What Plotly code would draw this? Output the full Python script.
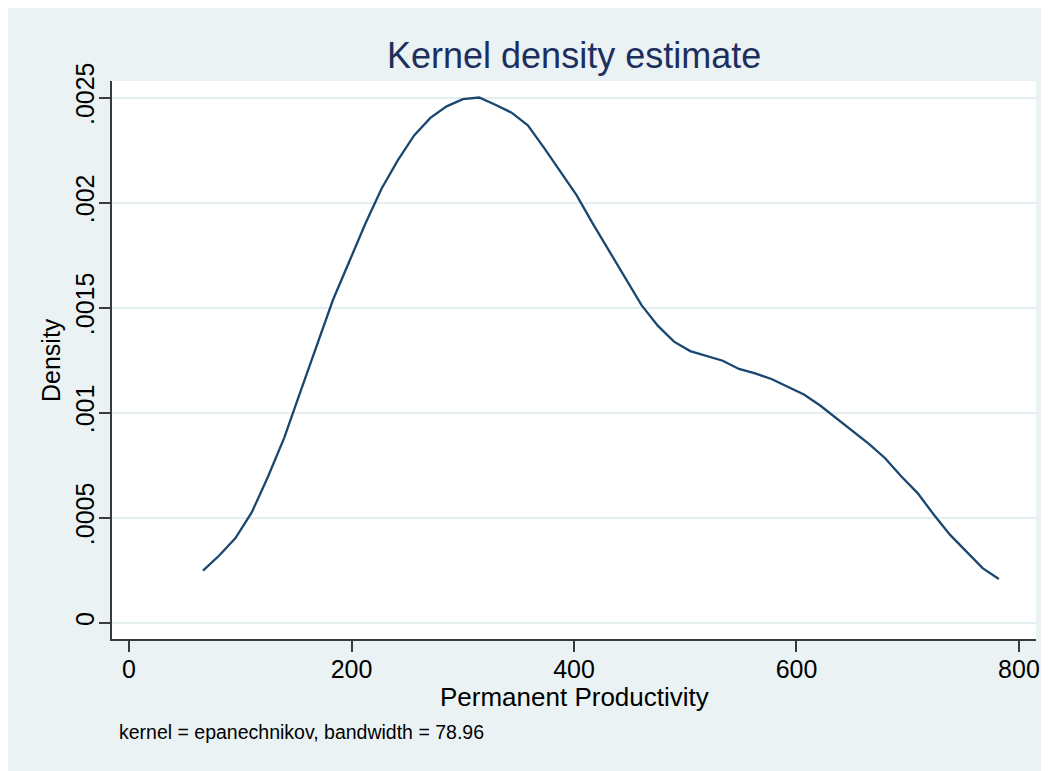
import plotly.graph_objects as go

# ---- data ----
x_vals = [66.5, 81.1, 95.7, 110.3, 124.9, 139.5, 154.1, 168.7, 183.3, 197.9,
          212.5, 227.1, 241.7, 256.3, 270.9, 285.5, 300.1, 314.7, 329.3, 343.9,
          358.5, 373.1, 387.7, 402.3, 416.9, 431.5, 446.1, 460.7, 475.3, 489.9,
          504.5, 519.1, 533.7, 548.3, 562.9, 577.5, 592.1, 606.7, 621.3, 635.9,
          650.5, 665.1, 679.7, 694.3, 708.9, 723.5, 738.1, 752.7, 767.3, 781.9]
density = [0.000248, 0.000320, 0.000403, 0.000525, 0.000695, 0.000880, 0.001100, 0.001322, 0.001536, 0.001718,
           0.001900, 0.002067, 0.002202, 0.002320, 0.002403, 0.002458, 0.002492, 0.002500, 0.002466, 0.002428,
           0.002368, 0.002260, 0.002147, 0.002035, 0.001900, 0.001770, 0.001640, 0.001512, 0.001414, 0.001338,
           0.001293, 0.001271, 0.001247, 0.001208, 0.001187, 0.001160, 0.001124, 0.001086, 0.001034, 0.000973,
           0.000910, 0.000851, 0.000783, 0.000696, 0.000617, 0.000514, 0.000418, 0.000339, 0.000260, 0.000208]
x_ticks = [0, 200, 400, 600, 800]
y_ticks = [0, 0.0005, 0.001, 0.0015, 0.002, 0.0025]
y_tick_labels = ["0", ".0005", ".001", ".0015", ".002", ".0025"]
title_text = "Kernel density estimate"
x_title = "Permanent Productivity"
y_title = "Density"
note_text = "kernel = epanechnikov, bandwidth = 78.96"

# ---- styling ----
W, H = 1049, 771
OFF = 8                                   # page body margin
L, R, T, B = 112 - OFF, 1036 - OFF, 81 - OFF, 639 - OFF   # plot area (figure px)
BG = "#EAF2F3"
GRID = "#E4EDEF"
LINE = "#1A476F"
AX = "#3A3A3A"
FONT = "Liberation Sans, Arial, sans-serif"

pw, ph = R - L, B - T
def px(xp):   # reference screen px -> paper x
    return (xp - OFF - L) / pw
def py(yp):   # reference screen px -> paper y
    return (B - (yp - OFF)) / ph

fig = go.Figure()
fig.add_trace(go.Scatter(x=x_vals, y=density, mode="lines",
                         line=dict(color=LINE, width=2.3), showlegend=False,
                         hoverinfo="skip"))

fig.update_layout(
    width=W, height=H,
    margin=dict(l=L, r=W - R, t=T, b=H - B, pad=0),
    paper_bgcolor=BG,
    plot_bgcolor="white",
    font=dict(family=FONT, color="black", size=26),
    showlegend=False,
    annotations=[
        dict(text=title_text, xref="paper", yref="paper", x=0.5, y=py(56),
             xanchor="center", yanchor="middle", showarrow=False,
             font=dict(family=FONT, size=36, color="#1C2F5E")),
        dict(text=x_title, xref="paper", yref="paper", x=0.5, y=py(697),
             xanchor="center", yanchor="middle", showarrow=False,
             font=dict(family=FONT, size=26, color="black")),
        dict(text=y_title, xref="paper", yref="paper", x=px(51), y=0.5,
             xanchor="center", yanchor="middle", showarrow=False, textangle=-90,
             font=dict(family=FONT, size=25, color="black")),
        dict(text=note_text, xref="paper", yref="paper", x=px(117), y=py(732),
             xanchor="left", yanchor="middle", showarrow=False,
             font=dict(family=FONT, size=19.5, color="black")),
    ],
)

fig.update_xaxes(
    range=[-15.3, 815.3], tickmode="array", tickvals=x_ticks,
    ticktext=[str(v) for v in x_ticks],
    showgrid=False, zeroline=False,
    showline=True, linecolor=AX, linewidth=1.5,
    ticks="outside", ticklen=11, tickwidth=1.5, tickcolor=AX,
    ticklabelstandoff=-4,
    tickfont=dict(family=FONT, size=25, color="black"),
    fixedrange=True,
)
fig.update_yaxes(
    range=[-0.0000775, 0.0025787], tickmode="array", tickvals=y_ticks,
    ticktext=y_tick_labels, tickangle=-90,
    showgrid=True, gridcolor=GRID, gridwidth=2, zeroline=False,
    showline=True, linecolor=AX, linewidth=1.5,
    ticks="outside", ticklen=11, tickwidth=1.5, tickcolor=AX,
    ticklabelstandoff=-5,
    tickfont=dict(family=FONT, size=25, color="black"),
    fixedrange=True,
)

fig.write_html("out.html")
